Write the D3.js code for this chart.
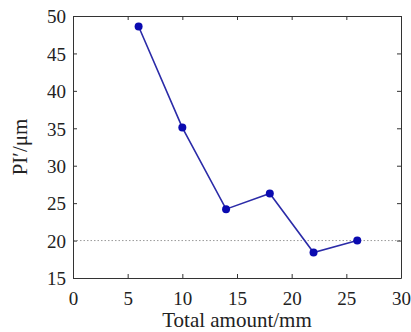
<!DOCTYPE html>
<html>
  <head>
    <meta charset="utf-8">
    <title>PI' vs total amount</title>
    <script src="https://d3js.org/d3.v7.min.js"></script>
    <style>
      body { margin: 0; background: #fff; }
      svg { font-family: "Liberation Serif", "DejaVu Serif", serif; }
      .axis path, .axis line { stroke: #333; }
      .axis text { font-size: 19px; fill: #222; font-family: "Liberation Serif", serif; }
      .axisLabel { font-size: 21px; fill: #222; }
    </style>
  </head>
  <body>
    <svg id="chart" width="411" height="332"></svg>
    <script>
      // data
      var amount = [6, 10, 14, 18, 22, 26];
      var piValues = [48.6, 35.1, 24.2, 26.3, 18.4, 20.0];
      var xTicks = [0, 5, 10, 15, 20, 25, 30];
      var yTicks = [15, 20, 25, 30, 35, 40, 45, 50];
      var refLevel = [20];

      var margin = { top: 16, right: 10, bottom: 54, left: 73 };
      var width = 411, height = 332;
      var chart = d3.select("#chart");

      var x = d3.scaleLinear().domain([0, 30]).range([margin.left, width - margin.right]);
      var y = d3.scaleLinear().domain([15, 50]).range([height - margin.bottom, margin.top]);

      // reference dotted line
      chart.selectAll(".ref")
        .data(refLevel)
        .join("line")
          .attr("class", "ref")
          .attr("x1", x(0)).attr("x2", x(30))
          .attr("y1", function(d) { return y(d); })
          .attr("y2", function(d) { return y(d); })
          .attr("stroke", "#999")
          .attr("stroke-width", 1)
          .attr("stroke-dasharray", "1.5,2");

      // axes, ticks pointing in
      chart.append("g").attr("class", "axis")
        .attr("transform", "translate(0," + y(15) + ")")
        .call(d3.axisBottom(x).tickValues(xTicks).tickSizeInner(-4).tickSizeOuter(0).tickPadding(10))
        .selectAll("text").attr("dy", "0.9em");
      chart.append("g").attr("class", "axis")
        .attr("transform", "translate(0," + y(50) + ")")
        .call(d3.axisTop(x).tickValues(xTicks).tickSizeInner(-4).tickSizeOuter(0).tickFormat(""));
      chart.append("g").attr("class", "axis")
        .attr("transform", "translate(" + x(0) + ",0)")
        .call(d3.axisLeft(y).tickValues(yTicks).tickSizeInner(-4).tickSizeOuter(0).tickPadding(7))
        .selectAll("text").attr("dy", "0.36em");
      chart.append("g").attr("class", "axis")
        .attr("transform", "translate(" + x(30) + ",0)")
        .call(d3.axisRight(y).tickValues(yTicks).tickSizeInner(-4).tickSizeOuter(0).tickFormat(""));

      // line and markers
      var pts = amount.map(function(a, i) { return [a, piValues[i]]; });
      var line = d3.line()
        .x(function(d) { return x(d[0]); })
        .y(function(d) { return y(d[1]); });
      chart.append("path")
        .attr("d", line(pts))
        .attr("fill", "none")
        .attr("stroke", "#2b2ba8")
        .attr("stroke-width", 1.6);
      chart.selectAll(".dot")
        .data(pts)
        .join("circle")
          .attr("class", "dot")
          .attr("cx", function(d) { return x(d[0]); })
          .attr("cy", function(d) { return y(d[1]); })
          .attr("r", 4)
          .attr("fill", "#0a0ab0");

      // axis labels
      chart.append("text").attr("class", "axisLabel")
        .attr("x", (x(0) + x(30)) / 2)
        .attr("y", 327)
        .attr("text-anchor", "middle")
        .text("Total amount/mm");
      chart.append("text").attr("class", "axisLabel")
        .attr("transform", "translate(27," + ((y(15) + y(50)) / 2) + ") rotate(-90)")
        .attr("text-anchor", "middle")
        .text("PI′/μm");
    </script>
  </body>
</html>
